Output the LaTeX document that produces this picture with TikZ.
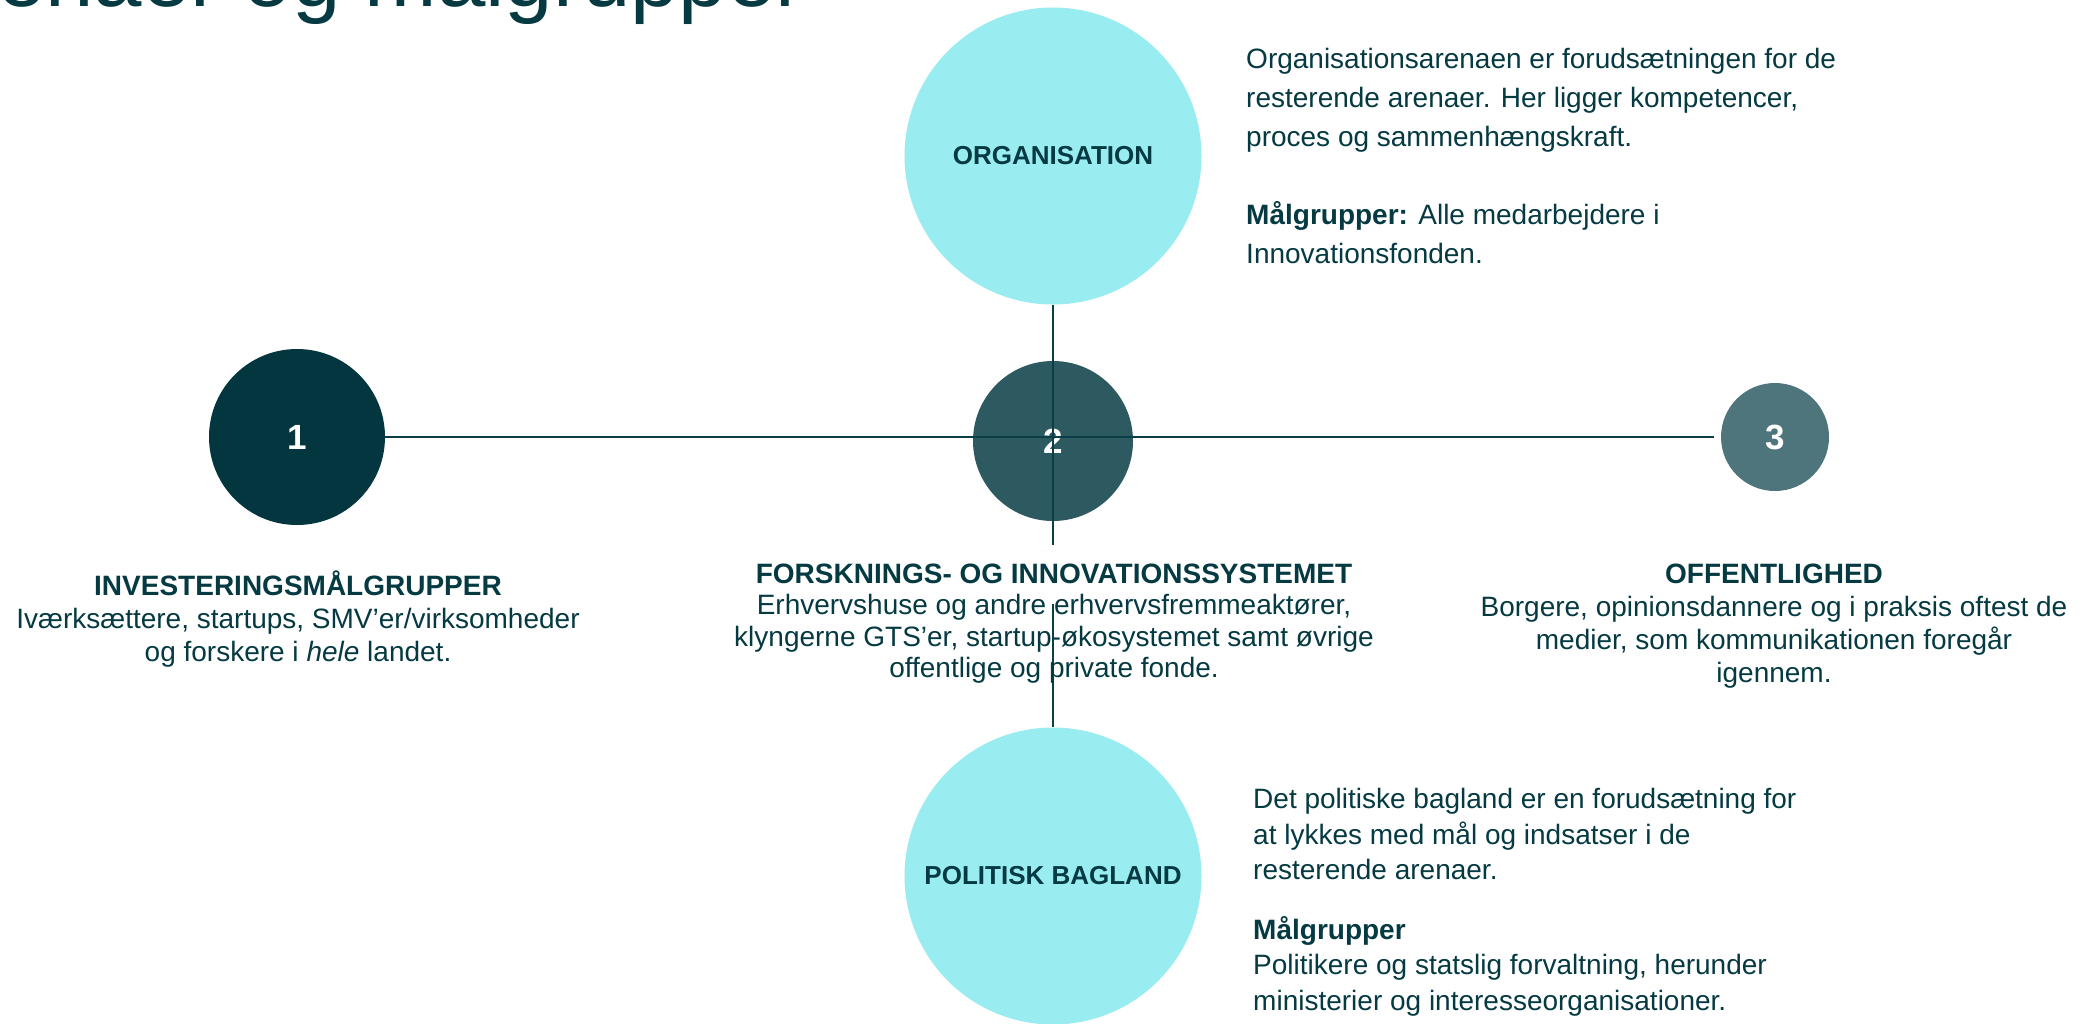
\documentclass[tikz,border=0pt]{standalone}
\usepackage{fontspec}
\setmainfont{Liberation Sans}
\definecolor{ink}{HTML}{053A42}
\definecolor{tealA}{HTML}{03363F}
\definecolor{tealB}{HTML}{2D5961}
\definecolor{tealC}{HTML}{4D757B}
\definecolor{aqua}{HTML}{99ECEF}
\definecolor{rule}{HTML}{0B3E47}
\begin{document}
\begin{tikzpicture}[x=1pt,y=-1pt,
  arena/.style={circle,fill=aqua,draw=none,minimum size=297pt,inner sep=0pt,
    text=ink,font=\bfseries\fontsize{26}{30}\selectfont},
  stage/.style={circle,draw=none,inner sep=0pt,text=white,
    font=\bfseries\fontsize{35}{40}\selectfont},
  link/.style={draw=rule,line width=1.7pt},
  % multi-line blocks are placed by the baseline of their last line
  caption/.style={anchor=base,align=center,inner sep=0pt,text=ink},
  note/.style={anchor=base west,align=left,inner sep=0pt,text=ink}]
  % canvas
  \fill[white] (0,0) rectangle (2084,1023);
  \useasboundingbox (0,0) rectangle (2084,1023);
  \clip (0,0) rectangle (2084,1023);

  % heading, running off the top edge
  \node[anchor=base west,inner sep=0pt,text=ink,
        font=\fontsize{87}{90}\selectfont] (heading) at (-3,6) {enaer og målgrupper};

  % arenas
  \node[arena] (org) at (1053,156) {ORGANISATION};
  \node[arena] (pol) at (1053,876) {POLITISK BAGLAND};

  % numbered stages
  \node[stage,fill=tealA,minimum size=176pt] (s1) at (297,437) {1};
  \node[stage,fill=tealB,minimum size=160pt] (s2) at (1053,441) {2};
  \node[stage,fill=tealC,minimum size=108pt] (s3) at (1775,437) {3};

  % axes
  \coordinate (gapTop) at (1053,545);
  \coordinate (gapBot) at (1053,604);
  \draw[link,shorten >=7pt] (s1) -- (s3);
  \draw[link] (org.south) -- (gapTop);
  \draw[link] (gapBot) -- (pol.north);

  % captions under the stages
  \node[caption,font=\fontsize{28}{33}\selectfont] (t1) at (298,661)
    {\textbf{INVESTERINGSMÅLGRUPPER}\\
     Iværksættere, startups, SMV’er/virksomheder\\
     og forskere i \textit{hele} landet.};
  \node[caption,font=\fontsize{28}{31.5}\selectfont] (t2) at (1054,677.5)
    {\textbf{FORSKNINGS- OG INNOVATIONSSYSTEMET}\\
     Erhvervshuse og andre erhvervsfremmeaktører,\\
     klyngerne GTS’er, startup-økosystemet samt øvrige\\
     offentlige og private fonde.};
  \node[caption,font=\fontsize{28}{33}\selectfont] (t3) at (1774,682)
    {\textbf{OFFENTLIGHED}\\
     Borgere, opinionsdannere og i praksis oftest de\\
     medier, som kommunikationen foregår\\
     igennem.};

  % notes beside the arenas
  \node[note,font=\fontsize{28}{39}\selectfont] (n1) at (1246,263)
    {Organisationsarenaen er forudsætningen for de\\
     resterende arenaer. Her ligger kompetencer,\\
     proces og sammenhængskraft.\\[39pt]
     \textbf{Målgrupper:} Alle medarbejdere i\\
     Innovationsfonden.};
  \node[note,font=\fontsize{28}{35.5}\selectfont] (n2) at (1253,1010)
    {Det politiske bagland er en forudsætning for\\
     at lykkes med mål og indsatser i de\\
     resterende arenaer.\\[24pt]
     \textbf{Målgrupper}\\
     Politikere og statslig forvaltning, herunder\\
     ministerier og interesseorganisationer.};
\end{tikzpicture}
\end{document}
